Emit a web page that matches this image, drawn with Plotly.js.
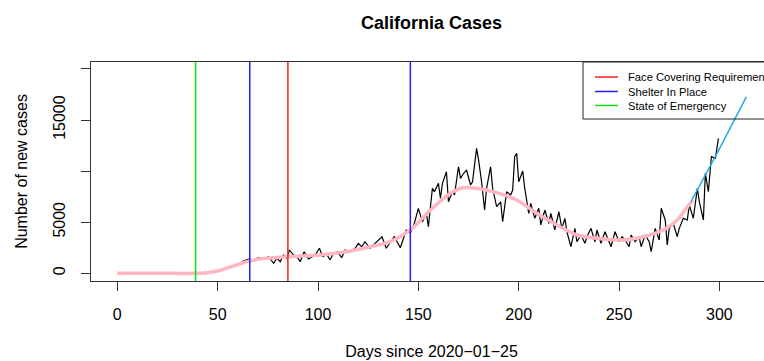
<!DOCTYPE html>
<html><head><meta charset="utf-8">
<script src="https://cdn.plot.ly/plotly-3.0.1.min.js"></script>
<style>html,body{margin:0;padding:0;overflow:hidden;background:#fff}</style>
</head><body><div id="chart" style="width:800px;height:361px"></div>
<script>
// Daily new cases (black line)
const caseDays = [1,10,20,30,38,42,46,50,53,56,59.6,62.9,65.4,67.9,70.4,72.9,75.4,77.9,79.5,81.2,82.8,84.5,85.8,87.8,89.5,91.1,93.1,95.3,96.9,98.6,100.7,102.4,104.4,106,107.7,109.7,111.8,113.5,116,118.5,120.1,121.8,123.4,125.9,128.4,131.9,134,138,141,144,146,148,150,152,154,155,157,158,160,161,162,164,165,167,168,170,171,172,174,176,177,179,180,181.5,183,184,186,187,189,191,192,194,196,197,198,199,200,202,203,205,206,208,210,211,213,215,216,218,220,221.5,223,224,226,228,229,231,233,234,236,238,239,241,243,244,246,248,250,251.5,253,255,256,258,260,261,263,265,266,268,270,271,273,274,275,277,279,280,282,284,285,287,289,290,292,293,294.5,296,298,299.5];
const newCases = [0,0,0,0,10,30,80,200,350,550,810,1210,1400,1300,1530,1400,1620,980,1470,1140,1790,1470,2280,1790,1620,1140,2110,1400,1620,1790,2450,1620,1850,1300,1950,2110,1530,2280,2110,2450,2930,2600,3090,2450,2930,3580,2450,3580,2500,4240,3910,4890,6360,5050,5870,4560,8320,7980,8800,7340,8800,9940,7000,7980,7660,10430,9290,9620,10110,8640,8960,12230,11090,8960,6190,8320,10430,8320,6520,7000,5050,7980,7660,8150,11410,11740,8960,10010,8320,5870,6850,5380,6360,4730,6190,4890,5870,4240,6030,4400,5380,4070,2600,4400,3090,3750,2930,3580,4400,3090,4240,2930,4070,3580,2600,4070,3090,3580,3260,2600,3750,3090,3580,2600,3750,3090,2110,4400,3260,6360,5220,2770,4400,4890,3580,4400,5380,5220,6680,5380,8320,7000,5220,9780,7980,11410,11250,13210];

// Smoothed trend (pink)
const smoothDays = [0,20,39.6,45,51,55,59.6,64.5,71,84.5,101,114,126,136,146,156,166,172,179,189,199,209,219,229,239,252,262,272,279,285.5,287];
const smoothCases = [0,0,0,60,280,550,810,1140,1400,1620,1790,2110,2600,3090,4240,6190,7830,8380,8320,7890,7170,5870,4730,3750,3420,3260,3580,4240,5220,6850,7100];

// Projection (light blue)
const fitDays = [285.8,299,313.4];
const fitCases = [7000,11800,17255];

// Policy events (vertical lines)
const eventNames = ['Face Covering Requirement','Shelter In Place','State of Emergency'];
const faceCoveringDays = [85];
const shelterDays = [66,146];
const emergencyDays = [39];

// Axis ticks
const xTickVals = [0,50,100,150,200,250,300];
const yTickVals = [0,5000,10000,15000,20000];
const yTickText = ['0','5000','','15000',''];

// ---------- styling / layout ----------
const W = 800, H = 361;
const M = {l:91, r:28, t:62, b:80};
const plotW = W - M.l - M.r, plotH = H - M.t - M.b;
const px = x => (x - M.l) / plotW;
const py = y => (H - M.b - y) / plotH;
const FONT = 'Liberation Sans, Arial, Helvetica, sans-serif';
const eventColors = ['#FF2020','#2020FF','#10E010'];
const eventSets = [faceCoveringDays, shelterDays, emergencyDays];

const traces = [
  {x: caseDays, y: newCases, type:'scatter', mode:'lines', line:{color:'#000', width:1.2}, showlegend:false, hoverinfo:'skip'},
  {x: smoothDays, y: smoothCases, type:'scatter', mode:'lines', line:{color:'#FFB6C1', width:3.5, shape:'spline', smoothing:0.8}, showlegend:false, hoverinfo:'skip'},
  {x: fitDays, y: fitCases, type:'scatter', mode:'lines', line:{color:'#22AAEE', width:1.5}, showlegend:false, hoverinfo:'skip'}
];

const shapes = [];
eventSets.forEach((days, i) => days.forEach(d => shapes.push({
  type:'line', xref:'x', yref:'paper', x0:d, x1:d, y0:0, y1:1, line:{color:eventColors[i], width:1.5}
})));
// legend box (R-style, top right)
shapes.push({type:'rect', xref:'paper', yref:'paper', x0:px(583), x1:1, y0:py(119), y1:1, line:{color:'#222', width:1}, fillcolor:'rgba(0,0,0,0)'});
const rowY = [77, 91.5, 105.5];
const annotations = [];
eventNames.forEach((name, i) => {
  shapes.push({type:'line', xref:'paper', yref:'paper', x0:px(595), x1:px(618), y0:py(rowY[i]), y1:py(rowY[i]), line:{color:eventColors[i], width:1.5}});
  annotations.push({xref:'paper', yref:'paper', x:px(626), y:py(rowY[i]), xanchor:'left', yanchor:'middle', text:name, showarrow:false, font:{family:FONT, size:11.2, color:'#000'}});
});

const layout = {
  width: W, height: H,
  margin: M,
  paper_bgcolor:'#fff', plot_bgcolor:'#fff',
  font: {family: FONT, color:'#000', size:16},
  title: {text:'<b>California Cases</b>', font:{family:FONT, size:18, color:'#000'}, x:0.5, xref:'paper', y:1-23/H, yref:'container', yanchor:'middle'},
  xaxis: {
    range:[-13.1, 326.2], tickmode:'array', tickvals:xTickVals, ticks:'outside', ticklen:9, tickcolor:'#333', tickwidth:1,
    showline:true, mirror:true, linecolor:'#333', linewidth:1, showgrid:false, zeroline:false,
    ticklabelstandoff:10, tickfont:{size:16},
    title:{text:'Days since 2020\u221201\u221225', font:{size:16}, standoff:23}
  },
  yaxis: {
    range:[-753, 20675], tickmode:'array', tickvals:yTickVals, ticktext:yTickText, tickangle:-90, ticks:'outside', ticklen:9, tickcolor:'#333', tickwidth:1,
    showline:true, mirror:true, linecolor:'#333', linewidth:1, showgrid:false, zeroline:false,
    ticklabelstandoff:10, tickfont:{size:16},
    title:{text:'Number of new cases', font:{size:16}, standoff:18}
  },
  shapes: shapes,
  annotations: annotations,
  showlegend:false
};

Plotly.newPlot('chart', traces, layout, {staticPlot:true, displayModeBar:false});
</script></body></html>
